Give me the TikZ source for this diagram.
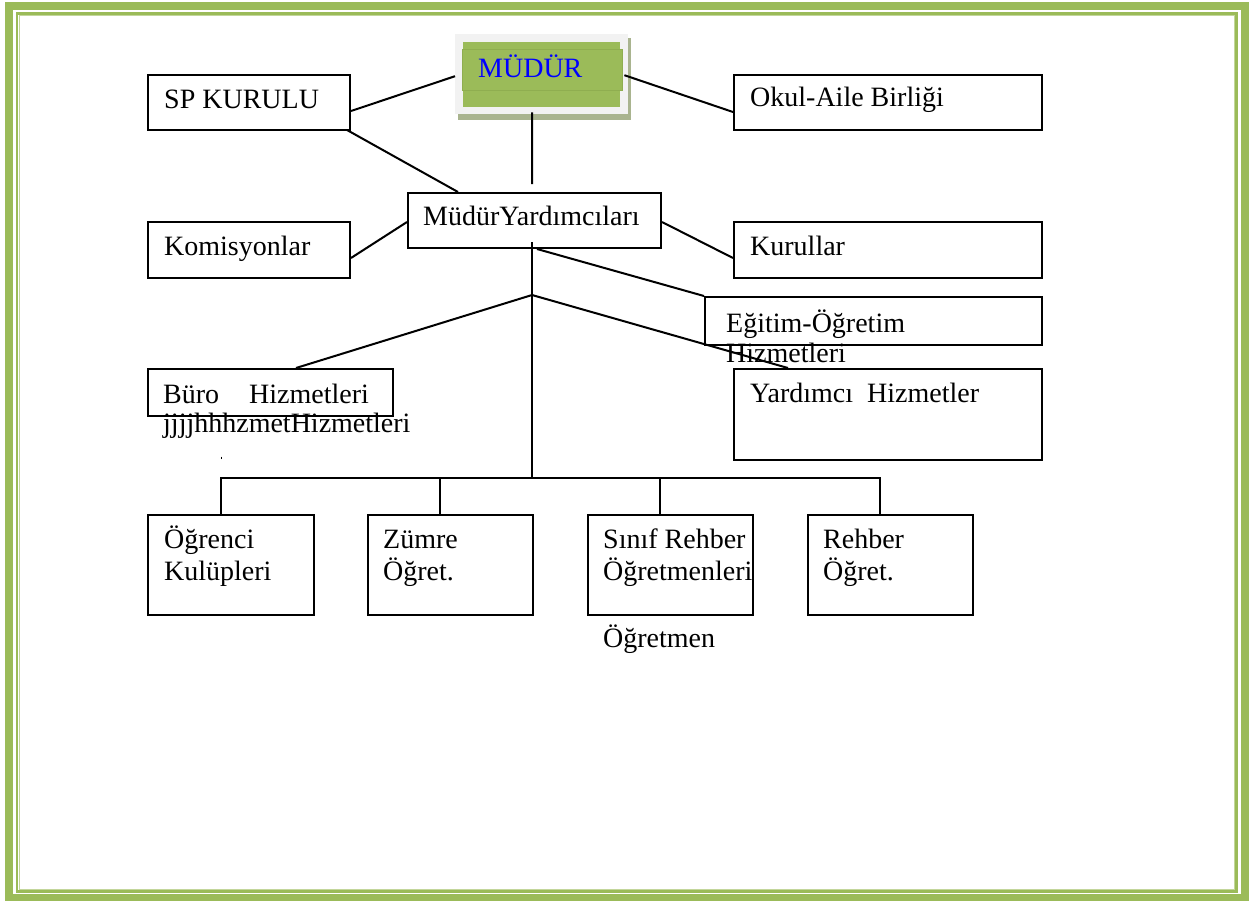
\documentclass[tikz,border=0pt]{standalone}
\usepackage{fontspec}
\setmainfont{Liberation Serif}
\usetikzlibrary{calc}
\definecolor{ogreen}{HTML}{9BBB59}
\definecolor{lgreen}{HTML}{C3D69B}
\definecolor{shadowc}{HTML}{A9B48F}
\definecolor{lgray}{HTML}{F2F2F2}
\definecolor{bandc}{HTML}{8FAE50}
\tikzset{
  box/.style={draw=black, line width=2pt, fill=white, anchor=north west, inner sep=0pt},
  lbl/.style={anchor=base west, inner sep=0pt, font=\fontsize{28}{32}\selectfont},
  conn/.style={draw=black, line width=2pt},
}
\begin{document}
\begin{tikzpicture}[x=1pt,y=-1pt]
\useasboundingbox (0,0) rectangle (1253,900);
% page border
\draw[ogreen, line width=8pt] (9,6) rectangle (1245,898);
\draw[ogreen, line width=2.5pt] (17,13.5) rectangle (1236.5,891.5);
\draw[lgreen, line width=1pt] (19,15.5) rectangle (1234.5,889.5);

% boxes
\node[box, minimum width=202pt, minimum height=55pt] (sp) at (147,74) {};
\node[box, minimum width=202pt, minimum height=56pt] (kom) at (147,221) {};
\node[box, minimum width=253pt, minimum height=55pt] (my) at (407,192) {};
\node[box, minimum width=308pt, minimum height=55pt] (okul) at (733,74) {};
\node[box, minimum width=308pt, minimum height=56pt] (kur) at (733,221) {};
\node[box, minimum width=337pt, minimum height=48pt] (egt) at (704,296) {};
\node[box, minimum width=308pt, minimum height=91pt] (yard) at (733,368) {};
\node[box, minimum width=245pt, minimum height=47pt] (buro) at (147,368) {};
\node[box, minimum width=166pt, minimum height=100pt] (ogr) at (147,514) {};
\node[box, minimum width=165pt, minimum height=100pt] (zum) at (367,514) {};
\node[box, minimum width=165pt, minimum height=100pt] (sin) at (587,514) {};
\node[box, minimum width=165pt, minimum height=100pt] (reh) at (807,514) {};

% MUDUR box
\fill[shadowc] (458,38) rectangle (631,120);
\node[anchor=north west, fill=lgray, minimum width=173pt, minimum height=80pt, inner sep=0pt] (mudur) at (455,34) {};
\fill[ogreen] (463,42) rectangle (620,107);
\draw[bandc, line width=0.8pt, fill=ogreen] (462,49) rectangle (622,90);
\node[lbl, text={rgb,255:red,0;green,0;blue,255}] (mudurt) at (478,77) {MÜDÜR};

% connectors
\coordinate (mdown) at (532,184);
\coordinate (branch) at (532,295);
\coordinate (bus) at (532,478);
\draw[conn] ($(mudur.west)+(0,2)$) -- ($(sp.north east)+(0,37)$);
\draw[conn] ($(mudur.east)+(-4,1)$) -- ($(okul.north west)+(0,38)$);
\draw[conn] ($(mudur.south)+(-9.5,-2)$) -- (mdown);
\draw[conn] ($(sp.south east)+(-4,-1)$) -- ($(my.north west)+(51,0)$);
\draw[conn] ($(kom.north east)+(0,37)$) -- ($(my.north west)+(0,30)$);
\draw[conn] ($(my.north east)+(0,30)$) -- ($(kur.north west)+(0,37)$);
\draw[conn] ($(my.south west)+(130,0)$) -- (egt.north west);
\draw[conn] ($(my.south west)+(125,-7)$) -- (bus);
\draw[conn] (branch) -- ($(buro.north west)+(149,0)$);
\draw[conn] (branch) -- ($(yard.north west)+(55,0)$);
\draw[conn] (ogr.north -| 221,0) |- (bus) -| (reh.north -| 880,0);
\draw[conn] (zum.north -| 440,0) -- (440,478);
\draw[conn] (sin.north -| 660,0) -- (660,478);
\draw[black, line width=0.6pt] (221,456.5) -- (221,459);

% labels
\node[lbl] (tsp) at (164,108) {SP KURULU};
\node[lbl] (tkom) at (164,255) {Komisyonlar};
\node[lbl] (tmy) at (423,225) {MüdürYardımcıları};
\node[lbl] (tokul) at (750,106) {Okul-Aile Birliği};
\node[lbl] (tkur) at (750,255) {Kurullar};
\node[lbl] (tegt1) at (726,332) {Eğitim-Öğretim};
\node[lbl] (tegt2) at (726,362) {Hizmetleri};
\node[lbl] (tyard) at (750,402) {\makebox[117pt][l]{Yardımcı}Hizmetler};
\node[lbl] (tburo) at (163,403) {\makebox[86pt][l]{Büro}Hizmetleri};
\node[lbl] (tjj) at (163,432) {jjjjhhhzmetHizmetleri};
\node[lbl] (togr1) at (164,548) {Öğrenci};
\node[lbl] (togr2) at (164,580) {Kulüpleri};
\node[lbl] (tzum1) at (383,548) {Zümre};
\node[lbl] (tzum2) at (383,580) {Öğret.};
\node[lbl] (tsin1) at (603,548) {Sınıf Rehber};
\node[lbl] (tsin2) at (603,580) {Öğretmenleri};
\node[lbl] (treh1) at (823,548) {Rehber};
\node[lbl] (treh2) at (823,580) {Öğret.};
\node[lbl] (togt) at (603,647) {Öğretmen};
\end{tikzpicture}
\end{document}
